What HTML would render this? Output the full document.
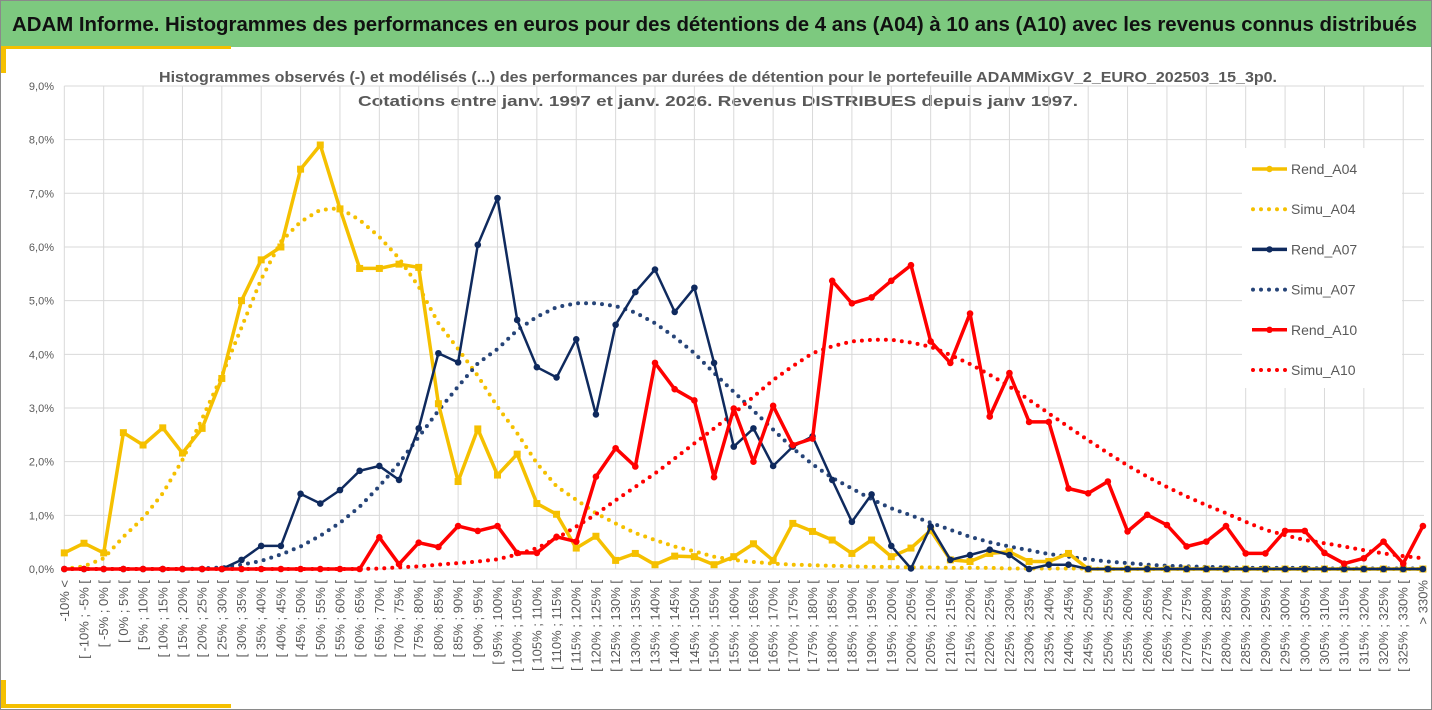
<!DOCTYPE html>
<html><head><meta charset="utf-8"><style>
html,body{margin:0;padding:0;background:#fff;}
svg{display:block;font-family:"Liberation Sans",sans-serif;}
</style></head><body>
<svg id="chart" width="1432" height="710" viewBox="0 0 1432 710">
<rect x="0.5" y="0.5" width="1431" height="709" fill="#fff" stroke="#8a8a8a"/>
<rect x="1" y="1" width="1430" height="46" fill="#7dc97f"/>
<text x="12" y="31" font-size="20" font-weight="bold" fill="#111" textLength="1405" lengthAdjust="spacingAndGlyphs">ADAM Informe. Histogrammes des performances en euros pour des détentions de 4 ans (A04) à 10 ans (A10) avec les revenus connus distribués</text>
<rect x="1" y="46" width="230" height="3" fill="#f5c000"/>
<rect x="1" y="46" width="5" height="27" fill="#f5c000"/>
<rect x="1" y="680" width="5" height="28" fill="#f5c000"/>
<rect x="1" y="704" width="230" height="4" fill="#f5c000"/>
<text x="718" y="82" font-size="15" font-weight="bold" fill="#595959" text-anchor="middle" textLength="1118" lengthAdjust="spacingAndGlyphs">Histogrammes observés (-) et modélisés (...) des performances par durées de détention pour  le portefeuille ADAMMixGV_2_EURO_202503_15_3p0.</text>
<text x="718" y="106" font-size="15" font-weight="bold" fill="#595959" text-anchor="middle" textLength="720" lengthAdjust="spacingAndGlyphs">Cotations  entre janv. 1997 et janv. 2026. Revenus DISTRIBUES depuis janv 1997.</text>
<g id="grid"></g><g id="yaxis"></g><g id="xaxis"></g><g id="series"></g><g id="legend"></g>
</svg>
<script>
const categories = (function(){const c=["-10% <"];for(let v=-10;v<330;v+=5){c.push("[ "+v+"% ; "+(v+5)+"% [");}c.push("> 330%");return c;})();
const yTicks = [0,1,2,3,4,5,6,7,8,9];
const rendA04 = [0.30,0.48,0.30,2.54,2.31,2.63,2.16,2.62,3.55,5.0,5.76,6.0,7.45,7.9,6.71,5.6,5.6,5.68,5.62,3.08,1.63,2.61,1.75,2.14,1.22,1.02,0.39,0.61,0.16,0.29,0.08,0.24,0.23,0.08,0.23,0.47,0.16,0.85,0.70,0.54,0.29,0.54,0.23,0.39,0.72,0.17,0.14,0.29,0.32,0.14,0.14,0.29,0,0,0,0,0,0,0,0,0,0,0,0,0,0,0,0,0,0];
const simuA04 = [0,0.05,0.2,0.6,0.95,1.41,2.03,2.8,3.6,4.5,5.4,6.1,6.47,6.69,6.72,6.5,6.19,5.79,5.26,4.58,4.1,3.6,3.02,2.53,1.97,1.54,1.29,1.04,0.85,0.67,0.54,0.42,0.33,0.23,0.17,0.13,0.1,0.08,0.07,0.06,0.05,0.04,0.04,0.03,0.03,0.02,0.02,0.02,0.01,0.01,0.01,0.01,0.01,0,0,0,0,0,0,0,0,0,0,0,0,0,0,0,0,0];
const rendA07 = [0,0,0,0,0,0,0,0,0,0.17,0.43,0.43,1.40,1.22,1.47,1.83,1.92,1.66,2.62,4.02,3.85,6.04,6.91,4.64,3.76,3.57,4.28,2.88,4.55,5.16,5.58,4.79,5.24,3.84,2.28,2.62,1.92,2.28,2.47,1.66,0.88,1.39,0.43,0.01,0.79,0.17,0.26,0.36,0.26,0,0.08,0.08,0,0,0,0,0,0,0,0,0,0,0,0,0,0,0,0,0,0];
const simuA07 = [0,0,0,0,0,0,0,0.01,0.03,0.08,0.15,0.27,0.42,0.62,0.86,1.16,1.54,1.97,2.46,2.95,3.4,3.83,4.1,4.45,4.7,4.88,4.95,4.95,4.9,4.78,4.58,4.32,4.02,3.65,3.3,2.95,2.6,2.25,1.95,1.7,1.5,1.3,1.13,1.0,0.86,0.73,0.6,0.5,0.42,0.35,0.28,0.23,0.18,0.14,0.11,0.08,0.06,0.05,0.04,0.03,0.02,0.02,0.02,0.02,0.01,0.01,0.01,0.01,0.01,0.01];
const rendA10 = [0,0,0,0,0,0,0,0,0,0,0,0,0,0,0,0,0.59,0.09,0.49,0.41,0.80,0.71,0.80,0.30,0.30,0.60,0.51,1.72,2.25,1.91,3.84,3.35,3.14,1.71,2.99,2.00,3.04,2.31,2.43,5.37,4.95,5.06,5.37,5.66,4.24,3.84,4.76,2.84,3.65,2.74,2.74,1.50,1.41,1.63,0.70,1.01,0.82,0.42,0.51,0.80,0.29,0.29,0.71,0.71,0.30,0.10,0.20,0.51,0.10,0.80];
const simuA10 = [0,0,0,0,0,0,0,0,0,0,0,0,0,0,0,0,0.01,0.03,0.05,0.08,0.11,0.14,0.18,0.27,0.39,0.57,0.79,1.02,1.28,1.53,1.78,2.06,2.34,2.62,2.9,3.21,3.52,3.78,4.02,4.15,4.24,4.27,4.27,4.22,4.14,3.99,3.82,3.62,3.4,3.15,2.9,2.65,2.4,2.16,1.93,1.72,1.53,1.35,1.19,1.04,0.88,0.73,0.63,0.54,0.48,0.42,0.35,0.29,0.24,0.2];

const NS="http://www.w3.org/2000/svg";
const X0=64.3, DX=19.69, Y0=569, PY=53.67;
const xs=i=>X0+i*DX, ys=v=>Y0-v*PY;
function mk(tag,parent){const e=document.createElementNS(NS,tag);parent.appendChild(e);return e;}
const grid=document.getElementById('grid'), ya=document.getElementById('yaxis'), xa=document.getElementById('xaxis'), se=document.getElementById('series'), lg=document.getElementById('legend');
for(const t of yTicks){
  const l=mk('line',grid);l.setAttribute('x1',X0);l.setAttribute('x2',1424);l.setAttribute('y1',ys(t));l.setAttribute('y2',ys(t));l.setAttribute('stroke','#d9d9d9');l.setAttribute('stroke-width','1');
  
  
  const tx=mk('text',ya);tx.setAttribute('x',54);tx.setAttribute('y',ys(t)+4);tx.setAttribute('text-anchor','end');tx.setAttribute('font-size','11');tx.setAttribute('fill','#595959');tx.textContent=t.toFixed(1).replace('.',',')+'%';
  
  
}
for(let i=0;i<categories.length;i+=2){
  const l=mk('line',grid);l.setAttribute('x1',xs(i));l.setAttribute('x2',xs(i));l.setAttribute('y1',ys(9));l.setAttribute('y2',Y0);l.setAttribute('stroke','#d9d9d9');
  
  
}
categories.forEach((c,i)=>{
  const tx=mk('text',xa);const x=xs(i)+4.5,y=580;
  tx.setAttribute('x',x);tx.setAttribute('y',y);tx.setAttribute('transform','rotate(-90 '+x+' '+y+')');tx.setAttribute('text-anchor','end');tx.setAttribute('font-size','13');tx.setAttribute('fill','#595959');tx.setAttribute('xml:space','preserve');tx.textContent=c;
  
  
});
function series(data,color,dotted,marker,name){
  const g=mk('g',se);
  
  
  const p=mk('polyline',g);p.setAttribute('points',data.map((v,i)=>xs(i).toFixed(1)+','+ys(v).toFixed(1)).join(' '));p.setAttribute('fill','none');p.setAttribute('stroke',color);
  if(dotted){p.setAttribute('stroke-width','4');p.setAttribute('stroke-dasharray','0 8');p.setAttribute('stroke-linecap','round');}
  else{p.setAttribute('stroke-width',marker==='sq'?'3.5':(color==='#ff0000'?'3.5':'2.5'));p.setAttribute('stroke-linejoin','round');
    data.forEach((v,i)=>{let m;if(marker==='sq'){m=mk('rect',g);m.setAttribute('x',xs(i)-3.5);m.setAttribute('y',ys(v)-3.5);m.setAttribute('width',7);m.setAttribute('height',7);}else{m=mk('circle',g);m.setAttribute('cx',xs(i));m.setAttribute('cy',ys(v));m.setAttribute('r',3.3);}m.setAttribute('fill',color);
      
      });}
}
series(simuA04,'#f5c000',true,null,'series-simu-a04');
series(simuA07,'#264478',true,null,'series-simu-a07');
series(simuA10,'#ff0000',true,null,'series-simu-a10');
series(rendA04,'#f5c000',false,'sq','series-rend-a04');
series(rendA07,'#0f2a5e',false,'c','series-rend-a07');
series(rendA10,'#ff0000',false,'c','series-rend-a10');
const bg=mk('rect',lg);bg.setAttribute('x',1242);bg.setAttribute('y',148);bg.setAttribute('width',160);bg.setAttribute('height',240);bg.setAttribute('fill','#fff');


const lgNames=['Rend_A04','Simu_A04','Rend_A07','Simu_A07','Rend_A10','Simu_A10'];
const lgColors=['#f5c000','#f5c000','#0f2a5e','#264478','#ff0000','#ff0000'];
lgNames.forEach((n,k)=>{
  const y=169+k*40.2;const g=mk('g',lg);
  
  
  const l=mk('line',g);l.setAttribute('x1',1252);l.setAttribute('x2',1287);l.setAttribute('y1',y);l.setAttribute('y2',y);l.setAttribute('stroke',lgColors[k]);
  if(k%2){l.setAttribute('stroke-width','4');l.setAttribute('stroke-dasharray','0 8');l.setAttribute('stroke-linecap','round');l.setAttribute('x1',1253);}
  else{l.setAttribute('stroke-width','3.5');const m=mk('circle',g);m.setAttribute('cx',1269.5);m.setAttribute('cy',y);m.setAttribute('r',3.2);m.setAttribute('fill',lgColors[k]);}
  const t=mk('text',g);t.setAttribute('x',1291);t.setAttribute('y',y+5);t.setAttribute('font-size','14');t.setAttribute('fill','#595959');t.textContent=n;
});
</script>
</body></html>
